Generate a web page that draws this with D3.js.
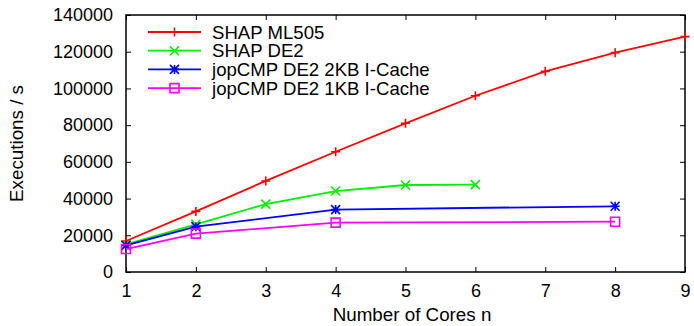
<!DOCTYPE html>
<html>
<head>
<meta charset="utf-8">
<script src="https://cdn.jsdelivr.net/npm/d3@7"></script>
<style>
  body { margin: 0; background: #fff; }
  text { font-family: "Liberation Sans", Arial, sans-serif; fill: #000; }
</style>
</head>
<body>
<div id="chart"></div>
<script>
// Data
let cores_shap = [1, 2, 3, 4, 5, 6, 7, 8, 9];
let shap_ml505 = [16900, 33000, 49600, 65500, 81000, 96000, 109300, 119500, 128200];
let cores_de2 = [1, 2, 3, 4, 5, 6];
let shap_de2 = [15000, 26000, 37000, 44100, 47400, 47600];
let cores_jop = [1, 2, 4, 8];
let jop_2kb = [14500, 24700, 34000, 35800];
let jop_1kb = [12500, 20900, 26900, 27400];
let x_ticks = [1, 2, 3, 4, 5, 6, 7, 8, 9];
let y_ticks = [0, 20000, 40000, 60000, 80000, 100000, 120000, 140000];

let series = [
    {name: "SHAP ML505", xs: cores_shap, ys: shap_ml505, color: "#ff0000", marker: "plus"},
    {name: "SHAP DE2", xs: cores_de2, ys: shap_de2, color: "#00ee00", marker: "cross"},
    {name: "jopCMP DE2 2KB I-Cache", xs: cores_jop, ys: jop_2kb, color: "#0000ff", marker: "star"},
    {name: "jopCMP DE2 1KB I-Cache", xs: cores_jop, ys: jop_1kb, color: "#ff00ff", marker: "square"}
];

const W = 694, H = 326;
let margin = {left: 126, right: 9, top: 15, bottom: 54};
let plot_w = W - margin.left - margin.right, plot_h = H - margin.top - margin.bottom;

let svg = d3.select("#chart").append("svg")
    .attr("width", W).attr("height", H);
let g = svg.append("g").attr("transform", `translate(${margin.left}, ${margin.top})`);

let x = d3.scaleLinear().domain([1, 9]).range([0, plot_w]);
let y = d3.scaleLinear().domain([0, 140000]).range([plot_h, 0]);

// Axes with inward ticks on all four sides (gnuplot style)
function styleAxis(sel) {
    sel.select(".domain").remove();
    sel.selectAll("line").attr("stroke", "#000").attr("stroke-width", 1);
    sel.selectAll("text").style("font-size", "18px").attr("fill", "#000");
}
g.append("g").attr("transform", `translate(0, ${plot_h})`)
    .call(d3.axisBottom(x).tickValues(x_ticks).tickSize(-5).tickPadding(12).tickFormat(d3.format("d")))
    .call(styleAxis);
g.append("g")
    .call(d3.axisTop(x).tickValues(x_ticks).tickSize(-5).tickFormat(""))
    .call(styleAxis);
g.append("g")
    .call(d3.axisLeft(y).tickValues(y_ticks).tickSize(-5).tickPadding(13).tickFormat(d3.format("d")))
    .call(styleAxis);
g.append("g").attr("transform", `translate(${plot_w}, 0)`)
    .call(d3.axisRight(y).tickValues(y_ticks).tickSize(-5).tickFormat(""))
    .call(styleAxis);

g.append("rect")
    .attr("width", plot_w).attr("height", plot_h)
    .attr("fill", "none").attr("stroke", "#000").attr("stroke-width", 1.5);

// Marker path generator, centred on 0,0
function markerPath(type, s) {
    if (type === "plus") return `M${-s},0H${s}M0,${-s}V${s}`;
    if (type === "cross") return `M${-s},${-s}L${s},${s}M${-s},${s}L${s},${-s}`;
    if (type === "star") return `M${-s},0H${s}M0,${-s}V${s}M${-s},${-s}L${s},${s}M${-s},${s}L${s},${-s}`;
    return `M${-s},${-s}H${s}V${s}H${-s}Z`;
}

let line = d3.line().x(d => x(d[0])).y(d => y(d[1]));

series.forEach(function(s) {
    let pts = s.xs.map((v, i) => [v, s.ys[i]]);
    g.append("path").datum(pts)
        .attr("d", line)
        .attr("fill", "none").attr("stroke", s.color).attr("stroke-width", 1.8);
    g.selectAll(null).data(pts).enter()
        .append("path")
        .attr("transform", d => `translate(${x(d[0])}, ${y(d[1])})`)
        .attr("d", markerPath(s.marker, 4.5))
        .attr("fill", "none").attr("stroke", s.color).attr("stroke-width", 1.6);
});

// Legend
let legend = svg.append("g").attr("transform", "translate(148, 32)");
series.forEach(function(s, i) {
    let row = legend.append("g").attr("transform", `translate(0, ${i * 18.7})`);
    row.append("line").attr("x1", 0).attr("x2", 53)
        .attr("stroke", s.color).attr("stroke-width", 1.8);
    row.append("path").attr("transform", "translate(26.5, 0)")
        .attr("d", markerPath(s.marker, 4.5))
        .attr("fill", "none").attr("stroke", s.color).attr("stroke-width", 1.6);
    row.append("text").attr("x", 64).attr("dy", "0.36em")
        .style("font-size", "18.6px").text(s.name);
});

// Axis titles
svg.append("text")
    .attr("transform", "translate(412, 321)")
    .style("text-anchor", "middle").style("font-size", "18.8px")
    .text("Number of Cores n");
svg.append("text")
    .attr("transform", `translate(23, ${margin.top + plot_h / 2}) rotate(-90)`)
    .style("text-anchor", "middle").style("font-size", "18.8px")
    .text("Executions / s");
</script>
</body>
</html>
